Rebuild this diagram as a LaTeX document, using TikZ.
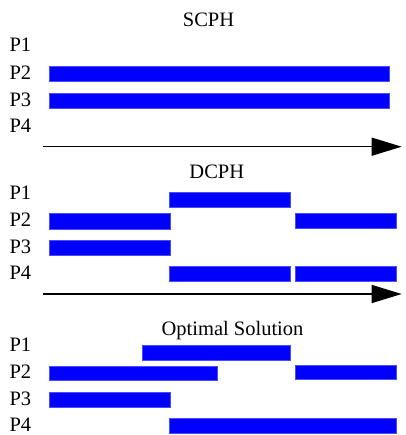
\documentclass[tikz,border=0pt]{standalone}
\usepackage{fontspec}
\setmainfont{Liberation Serif}
\usetikzlibrary{arrows.meta}
\begin{document}
\begin{tikzpicture}[x=1pt,y=-1pt,
  lab/.style={anchor=base west,inner sep=0pt,font=\fontsize{20.5}{24}\selectfont},
  ttl/.style={anchor=base,inner sep=0pt,font=\fontsize{20.5}{24}\selectfont},
  bar/.style={fill=blue,draw=blue!70!white,line width=0.4pt},
  axis/.style={line width=1.3pt,-{Triangle[length=30pt,width=18pt]}}]
\useasboundingbox (0,0) rectangle (405,435);
% ---------- SCPH ----------
\node[ttl] (t1) at (208.5,26.7) {SCPH};
\node[lab] (a1) at (9.3,51.7) {P1};
\node[lab] (a2) at (9.3,80) {P2};
\node[lab] (a3) at (9.3,106.7) {P3};
\node[lab] (a4) at (9.3,132.3) {P4};
\path[bar] (49.3,66.7) rectangle (389.3,81.7);
\path[bar] (49.3,93.3) rectangle (389.3,108.3);
\coordinate (s1) at (42.7,146.7);
\coordinate (e1) at (401.7,146.7);
\draw[axis] (s1) -- (e1);
% ---------- DCPH ----------
\node[ttl] (t2) at (216.8,178.3) {DCPH};
\node[lab] (b1) at (9.3,199.3) {P1};
\node[lab] (b2) at (9.3,226.7) {P2};
\node[lab] (b3) at (9.3,253.3) {P3};
\node[lab] (b4) at (9.3,279.3) {P4};
\path[bar] (169,192.7) rectangle (289.7,207.7);
\path[bar] (49.3,213.3) rectangle (170.3,228.7);
\path[bar] (295,212.7) rectangle (396,227.7);
\path[bar] (49.3,240) rectangle (170.3,255.3);
\path[bar] (169,266) rectangle (289.7,281);
\path[bar] (295,266) rectangle (396,281);
\coordinate (s2) at (42.7,294);
\coordinate (e2) at (401.7,294);
\draw[axis] (s2) -- (e2);
% ---------- Optimal Solution ----------
\node[ttl] (t3) at (232.5,335) {Optimal Solution};
\node[lab] (c1) at (9.3,351.7) {P1};
\node[lab] (c2) at (9.3,378.3) {P2};
\node[lab] (c3) at (9.3,405) {P3};
\node[lab] (c4) at (9.3,431) {P4};
\path[bar] (142.3,345) rectangle (289.7,360);
\path[bar] (49.3,365.7) rectangle (217,380.3);
\path[bar] (295,365) rectangle (396,379.3);
\path[bar] (49.3,392.3) rectangle (170.3,407);
\path[bar] (169,417.7) rectangle (396,432.7);
\end{tikzpicture}
\end{document}
